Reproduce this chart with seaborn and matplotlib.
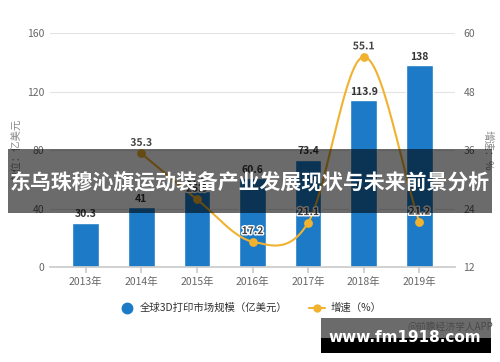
import numpy as np
import pandas as pd
import matplotlib
matplotlib.use("Agg")
import matplotlib.pyplot as plt
import matplotlib.patheffects as pe
from matplotlib.patches import Rectangle
from matplotlib.lines import Line2D
import seaborn as sns

# ---- data ----
years = ["2013年", "2014年", "2015年", "2016年", "2017年", "2018年", "2019年"]
market_size = [30.3, 41, 51.7, 60.6, 73.4, 113.9, 138]
growth_years = ["2014年", "2015年", "2016年", "2017年", "2018年", "2019年"]
growth = [35.3, 25.9, 17.2, 21.1, 55.1, 21.2]
left_ticks = [0, 40, 80, 120, 160]
right_ticks = [12, 24, 36, 48, 60]
bar_label = "全球3D打印市场规模（亿美元）"
line_label = "增速（%）"
title_text = "东乌珠穆沁旗运动装备产业发展现状与未来前景分析"

sns.set_theme(style="white")
plt.rcParams['font.family'] = ['Noto Sans CJK SC', 'DejaVu Sans']

BLUE = "#1c7ac6"
GOLD = "#f1b22f"
TICK = "#666666"

fig = plt.figure(figsize=(5, 3.62), dpi=100)
ax = fig.add_axes([0.1, 0.2624, 0.81, 0.6464])

df = pd.DataFrame({"year": years, "size": market_size})
sns.barplot(data=df, x="year", y="size", color=BLUE, width=0.48,
            saturation=1, ax=ax, zorder=2)
ax.set_ylim(0, 160)
ax.set_yticks(left_ticks)
ax.set_xlim(-0.64, 6.64)
ax.set_xlabel("")
ax.set_ylabel("")
for s in ["top", "left", "right"]:
    ax.spines[s].set_visible(False)
ax.spines["bottom"].set_color("#cccccc")
ax.grid(axis="y", color="#e3e3e3", linewidth=0.8, zorder=0)
ax.set_axisbelow(True)
ax.tick_params(axis="y", length=0, pad=4, labelsize=7.5, labelcolor=TICK)
ax.tick_params(axis="x", length=4, color="#cccccc", pad=3, labelsize=7.5,
               labelcolor=TICK, direction="out", bottom=True)

for i, v in enumerate(market_size):
    ax.annotate(f"{v:g}", (i, v), xytext=(0, 2.5), textcoords="offset points",
                ha="center", va="bottom", fontsize=7.5, fontweight="bold",
                color="#333333", zorder=5)

ax2 = ax.twinx()
ax2.set_ylim(12, 60)
ax2.set_yticks(right_ticks)
for s in ["top", "left", "right", "bottom"]:
    ax2.spines[s].set_visible(False)
ax2.tick_params(axis="y", length=0, pad=6, labelsize=7.5, labelcolor=TICK)
ax2.grid(False)

# smooth curve through the growth points (Catmull-Rom)
gx = np.array([years.index(y) for y in growth_years], dtype=float)
gy = np.array(growth, dtype=float)
n = len(gx)
mx = np.zeros(n); my = np.zeros(n)
for i in range(n):
    if i == 0:
        mx[i], my[i] = gx[1] - gx[0], gy[1] - gy[0]
    elif i == n - 1:
        mx[i], my[i] = gx[-1] - gx[-2], gy[-1] - gy[-2]
    else:
        mx[i], my[i] = (gx[i + 1] - gx[i - 1]) / 2, (gy[i + 1] - gy[i - 1]) / 2
sx, sy = [], []
t = np.linspace(0, 1, 40)
h00 = 2 * t**3 - 3 * t**2 + 1
h10 = t**3 - 2 * t**2 + t
h01 = -2 * t**3 + 3 * t**2
h11 = t**3 - t**2
for i in range(n - 1):
    sx.extend(h00 * gx[i] + h10 * mx[i] + h01 * gx[i + 1] + h11 * mx[i + 1])
    sy.extend(h00 * gy[i] + h10 * my[i] + h01 * gy[i + 1] + h11 * my[i + 1])
curve = pd.DataFrame({"x": sx, "y": sy})
sns.lineplot(data=curve, x="x", y="y", sort=False, color=GOLD, linewidth=1.5,
             ax=ax2, zorder=3)
pts = pd.DataFrame({"x": gx, "y": gy})
sns.scatterplot(data=pts, x="x", y="y", color=GOLD, s=40, edgecolor=GOLD,
                linewidth=0, ax=ax2, zorder=4)
ax2.set_xlabel(""); ax2.set_ylabel("")
ax2.set_xlim(-0.64, 6.64)
for xi, yi in zip(gx, gy):
    ax2.annotate(f"{yi:g}", (xi, yi), xytext=(0, 4), textcoords="offset points",
                 ha="center", va="bottom", fontsize=7.5, fontweight="bold",
                 color="#444444", zorder=6,
                 path_effects=[pe.withStroke(linewidth=2, foreground="white")])

fig.text(0.034, 0.585, "单位：亿美元", rotation=90, ha="center", va="center",
         fontsize=7.5, color="#888888")
fig.text(0.975, 0.585, "增速：%", rotation=-90, ha="center", va="center",
         fontsize=7.5, color="#888888")

handles = [
    Line2D([], [], marker="o", linestyle="none", markersize=7.5,
           markerfacecolor=BLUE, markeredgecolor=BLUE),
    Line2D([], [], marker="o", color=GOLD, linewidth=1.5, markersize=5,
           markerfacecolor=GOLD, markeredgecolor=GOLD),
]
fig.legend(handles, [bar_label, line_label], loc="center",
           bbox_to_anchor=(0.5, 0.149), ncol=2, frameon=False, fontsize=7.5,
           handlelength=1.6, columnspacing=2.0, handletextpad=0.5,
           labelcolor="#333333")

# overlay banner
W, H = 500, 362
def fr(x0, y0, x1, y1):
    return (x0 / W, 1 - y1 / H), (x1 - x0) / W, (y1 - y0) / H
xy, w, h = fr(8, 149, 492, 213)
fig.add_artist(Rectangle(xy, w, h, transform=fig.transFigure,
                         facecolor="black", alpha=0.58, edgecolor="none",
                         zorder=10))
fig.text(0.5, 1 - 182 / H, title_text, ha="center", va="center",
         fontsize=15, fontweight="bold", color="white", zorder=11)

# bottom watermark box
xy, w, h = fr(321, 318, 491, 338)
fig.add_artist(Rectangle(xy, w, h, transform=fig.transFigure,
                         facecolor="#6b6b6b", edgecolor="none", zorder=10))
xy, w, h = fr(321, 338, 491, 353)
fig.add_artist(Rectangle(xy, w, h, transform=fig.transFigure,
                         facecolor="black", edgecolor="none", zorder=10))
fig.text(493 / W, 1 - 327 / H, "@前瞻经济学人APP", ha="right", va="center",
         fontsize=7, color="#4a4a4a", zorder=11)
fig.text(405 / W, 1 - 337 / H, "www.fm1918.com", ha="center", va="center",
         fontsize=11, fontweight="bold", color="white", zorder=12,
         family="DejaVu Sans")

fig.savefig("out.png", dpi=100)
